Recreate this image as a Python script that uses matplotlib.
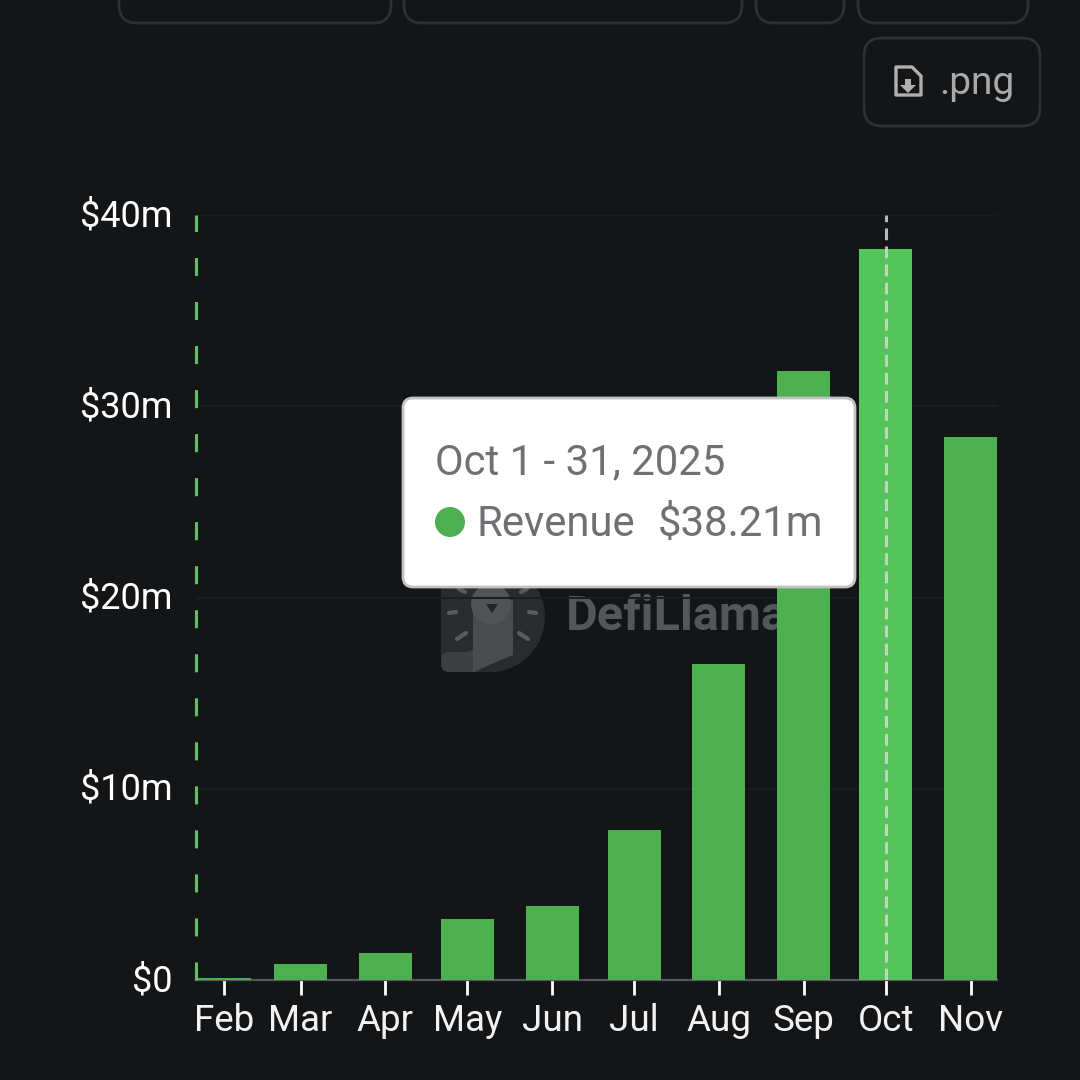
import matplotlib
matplotlib.use('Agg')
import matplotlib.pyplot as plt
import matplotlib.dates as mdates
from matplotlib.patches import FancyBboxPatch, Circle, Polygon, Wedge
from matplotlib.transforms import ScaledTranslation
from datetime import datetime

plt.rcParams['font.family'] = ['Roboto', 'DejaVu Sans']
plt.rcParams['lines.scale_dashes'] = False

months = ['2025-02-01', '2025-03-01', '2025-04-01', '2025-05-01', '2025-06-01',
          '2025-07-01', '2025-08-01', '2025-09-01', '2025-10-01', '2025-11-01']
month_labels = ['Feb', 'Mar', 'Apr', 'May', 'Jun', 'Jul', 'Aug', 'Sep', 'Oct', 'Nov']
revenue = [0.1, 0.85, 1.4, 3.2, 3.85, 7.85, 16.5, 31.85, 38.21, 28.4]
y_ticks = [0, 10, 20, 30, 40]
y_labels = ['$0', '$10m', '$20m', '$30m', '$40m']
highlight = 'Oct'

BG = '#141517'
GREEN = '#4CAF50'
GREEN_HL = '#55C45A'
EDGE = '#2e3033'
ICON = '#b0b0b0'

dates = [datetime.strptime(m, '%Y-%m-%d') for m in months]
x = mdates.date2num(dates)

W = 1080
fig = plt.figure(figsize=(10.8, 10.8), dpi=100, facecolor=BG)


def px_axes(left, top, right, bottom, z):
    # axes placed by image pixels
    a = fig.add_axes([left / W, 1 - bottom / W, (right - left) / W, (bottom - top) / W], zorder=z)
    a.patch.set_alpha(0)
    return a


# back layer: watermark, sits under the bars
back = px_axes(0, 0, W, W, 0)
back.set_xlim(0, W)
back.set_ylim(W, 0)
back.axis('off')
back.add_patch(FancyBboxPatch((441, 560), 62, 112, boxstyle='round,pad=0,rounding_size=10',
                              fc='#2a2b2c', ec='none'))
back.add_patch(Wedge((490, 617), 55, -90, 90, fc='#2a2b2c', ec='none'))
back.add_patch(FancyBboxPatch((441, 652), 40, 20, boxstyle='round,pad=0,rounding_size=8',
                              fc='#3e3f40', ec='none', zorder=2))
back.add_patch(Polygon([(441, 660), (473, 650), (473, 672), (441, 664)], fc='#3e3f40', ec='none', zorder=2))
back.add_patch(Polygon([(473, 672), (513, 655), (513, 600), (473, 600)], fc='#4a4b4c', ec='none', zorder=3))
back.add_patch(Circle((491, 604), 20, fc='#525354', ec='none', zorder=3))
back.add_patch(Polygon([(486, 604), (498, 604), (492, 613)], fc='#232425', ec='none', zorder=4))
for x0, y0, x1, y1 in [(449, 613, 456, 612), (457, 639, 466, 633), (529, 612, 536, 613),
                       (519, 633, 528, 639), (459, 589, 465, 592), (521, 592, 527, 589)]:
    back.plot([x0, x1], [y0, y1], color='#5a5b5c', lw=3, solid_capstyle='round', zorder=4)
back.text(566, 617, 'DefiLlama', color='#55565a', fontsize=35, fontweight='bold',
          va='center', ha='left')

# main chart
ax = px_axes(196, 215, 997, 980, 1)
px_per_day = (970.5 - 224) / (x[-1] - x[0])
ax.set_xlim(x[0] - (224 - 196) / px_per_day, x[-1] + (997 - 970.5) / px_per_day)
ax.set_ylim(0, 40)

colors = [GREEN_HL if m == highlight else GREEN for m in month_labels]
ax.bar(x, revenue, width=53 / px_per_day, color=colors, zorder=3)

for s in ['top', 'right', 'left']:
    ax.spines[s].set_visible(False)
ax.spines['bottom'].set_color('#55565a')
ax.spines['bottom'].set_linewidth(1.6)
ax.spines['bottom'].set_zorder(2)

ax.set_yticks(y_ticks)
ax.set_yticklabels(y_labels)
ax.tick_params(axis='y', length=0, pad=17, labelsize=26, labelcolor='white')
# nudge the y labels up a bit
for lab in ax.get_yticklabels():
    lab.set_transform(lab.get_transform() + ScaledTranslation(0, 2 / 72, fig.dpi_scale_trans))
ax.set_xticks(x)
ax.set_xticklabels(month_labels)
ax.tick_params(axis='x', length=10.8, width=2, color='white', pad=6, labelsize=26.5, labelcolor='#f2f2f2')
ax.grid(axis='y', color='#1c1d20', linewidth=1.4, zorder=1)
ax.set_axisbelow(True)

ax.axvline(ax.get_xlim()[0], color='#5fc063', linewidth=2.2, linestyle=(0, (13, 18.7)), clip_on=False, zorder=4)
oct_x = x[month_labels.index(highlight)]
ax.axvline(oct_x, color='#d6d6d6', alpha=0.85, linewidth=2.2, linestyle=(0, (8.5, 4.5)), zorder=4)

# top layer: buttons and tooltip
top = px_axes(0, 0, W, W, 2)
top.set_xlim(0, W)
top.set_ylim(W, 0)
top.axis('off')

for l, r in [(119, 391), (404, 742), (756, 844), (858, 1028)]:
    top.add_patch(FancyBboxPatch((l, -40), r - l, 63, boxstyle='round,pad=0,rounding_size=18',
                                 fc='none', ec=EDGE, lw=2))
top.add_patch(FancyBboxPatch((864, 38), 176, 88, boxstyle='round,pad=0,rounding_size=18',
                             fc='none', ec=EDGE, lw=2))
# file icon of the .png button
top.add_patch(Polygon([(896, 67), (912, 67), (921, 76), (921, 95), (896, 95)], closed=True,
                      fc=BG, ec=ICON, lw=2.4, joinstyle='round'))
top.add_patch(Polygon([(905, 79), (911, 79), (911, 85), (916, 85), (908, 93), (900, 85), (905, 85)],
                      closed=True, fc=ICON, ec='none'))
top.text(939, 83, '.png', color='#a9a9aa', fontsize=28, va='center', ha='left')

top.add_patch(FancyBboxPatch((403, 398), 452, 189, boxstyle='round,pad=0,rounding_size=10',
                             fc='white', ec='#c2c2c4', lw=2))
top.text(435, 463, 'Oct 1 - 31, 2025', color='#6e7073', fontsize=30.2, va='center', ha='left')
top.add_patch(Circle((450, 522), 15, fc=GREEN, ec='none'))
top.text(476.5, 525, 'Revenue', color='#6e7073', fontsize=30.2, va='center', ha='left')
top.text(657.5, 525, '$38.21m', color='#6e7073', fontsize=30.2, va='center', ha='left')

fig.savefig('out.png', dpi=100, facecolor=BG)
